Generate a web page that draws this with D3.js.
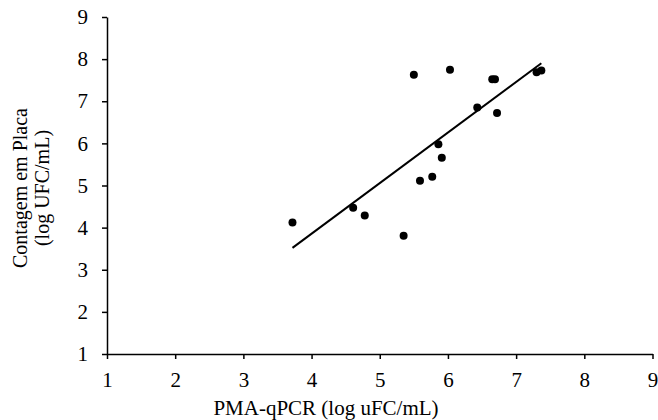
<!DOCTYPE html>
<html>
<head>
<meta charset="utf-8">
<script src="https://cdn.jsdelivr.net/npm/d3@7"></script>
<style>
 body { margin: 0; background: #fff; }
 text { font-family: "Liberation Serif", "Times New Roman", serif; }
</style>
</head>
<body>
<svg></svg>
<script>
// размеры
const width = 658;
const height = 420;
const margin = {top: 17, right: 5, bottom: 66, left: 107};

// данные: PMA-qPCR (x) и контагем в плаке (y)
const pmaQpcr = [3.72, 4.61, 4.78, 5.35, 5.50, 5.59, 5.77, 5.86, 5.91, 6.03, 6.43, 6.65, 6.69, 6.72, 7.30, 7.37];
const placa   = [4.12, 4.47, 4.29, 3.81, 7.63, 5.11, 5.21, 5.98, 5.66, 7.75, 6.85, 7.52, 7.52, 6.72, 7.69, 7.73];
const xTicks = [1, 2, 3, 4, 5, 6, 7, 8, 9];
const yTicks = [1, 2, 3, 4, 5, 6, 7, 8, 9];

let svg = d3.select("svg")
 .attr("width", width)
 .attr("height", height);

let x = d3.scaleLinear().domain([1, 9]).range([margin.left, width - margin.right - 0.5]);
let y = d3.scaleLinear().domain([1, 9]).range([height - margin.bottom, margin.top]);

// оси
let xAxis = svg.append("g")
 .attr("transform", `translate(0, ${y(1)})`)
 .call(d3.axisBottom(x).tickValues(xTicks).tickSize(5).tickSizeOuter(0).tickPadding(13));
let yAxis = svg.append("g")
 .attr("transform", `translate(${x(1)}, 0)`)
 .call(d3.axisLeft(y).tickValues(yTicks).tickSize(5).tickSizeOuter(0).tickPadding(14));

[xAxis, yAxis].forEach(a => {
 a.attr("font-size", null).attr("font-family", null);
 a.select(".domain").attr("stroke", "#000").attr("stroke-width", 1.5);
 a.selectAll(".tick line").attr("stroke", "#000").attr("stroke-width", 1.5);
 a.selectAll(".tick text").style("font-size", "21px").attr("fill", "#000");
});

// линия тренда (метод наименьших квадратов)
const n = pmaQpcr.length;
const mx = d3.mean(pmaQpcr), my = d3.mean(placa);
let sxy = 0, sxx = 0;
for (let i = 0; i < n; i++) {
 sxy += (pmaQpcr[i] - mx) * (placa[i] - my);
 sxx += (pmaQpcr[i] - mx) ** 2;
}
const slope = sxy / sxx;
const icpt = my - slope * mx;
const xr = d3.extent(pmaQpcr);

svg.append("line")
 .attr("x1", x(xr[0])).attr("y1", y(icpt + slope * xr[0]))
 .attr("x2", x(xr[1])).attr("y2", y(icpt + slope * xr[1]))
 .attr("stroke", "#000")
 .attr("stroke-width", 2);

// точки
svg.append("g").selectAll("circle")
 .data(pmaQpcr.map((d, i) => ({x: d, y: placa[i]})))
 .join("circle")
 .attr("cx", d => x(d.x))
 .attr("cy", d => y(d.y))
 .attr("r", 4)
 .attr("fill", "#000");

// подписи осей
svg.append("text")
 .attr("x", 326).attr("y", 415)
 .attr("text-anchor", "middle")
 .style("font-size", "21px")
 .text("PMA-qPCR (log uFC/mL)");

let yt = svg.append("text")
 .attr("transform", `translate(27, 188) rotate(-90)`)
 .attr("text-anchor", "middle")
 .style("font-size", "20px");
yt.append("tspan").attr("x", 0).attr("dy", 0).text("Contagem em Placa");
yt.append("tspan").attr("x", 0).attr("dy", 22).text("(log UFC/mL)");
</script>
</body>
</html>
